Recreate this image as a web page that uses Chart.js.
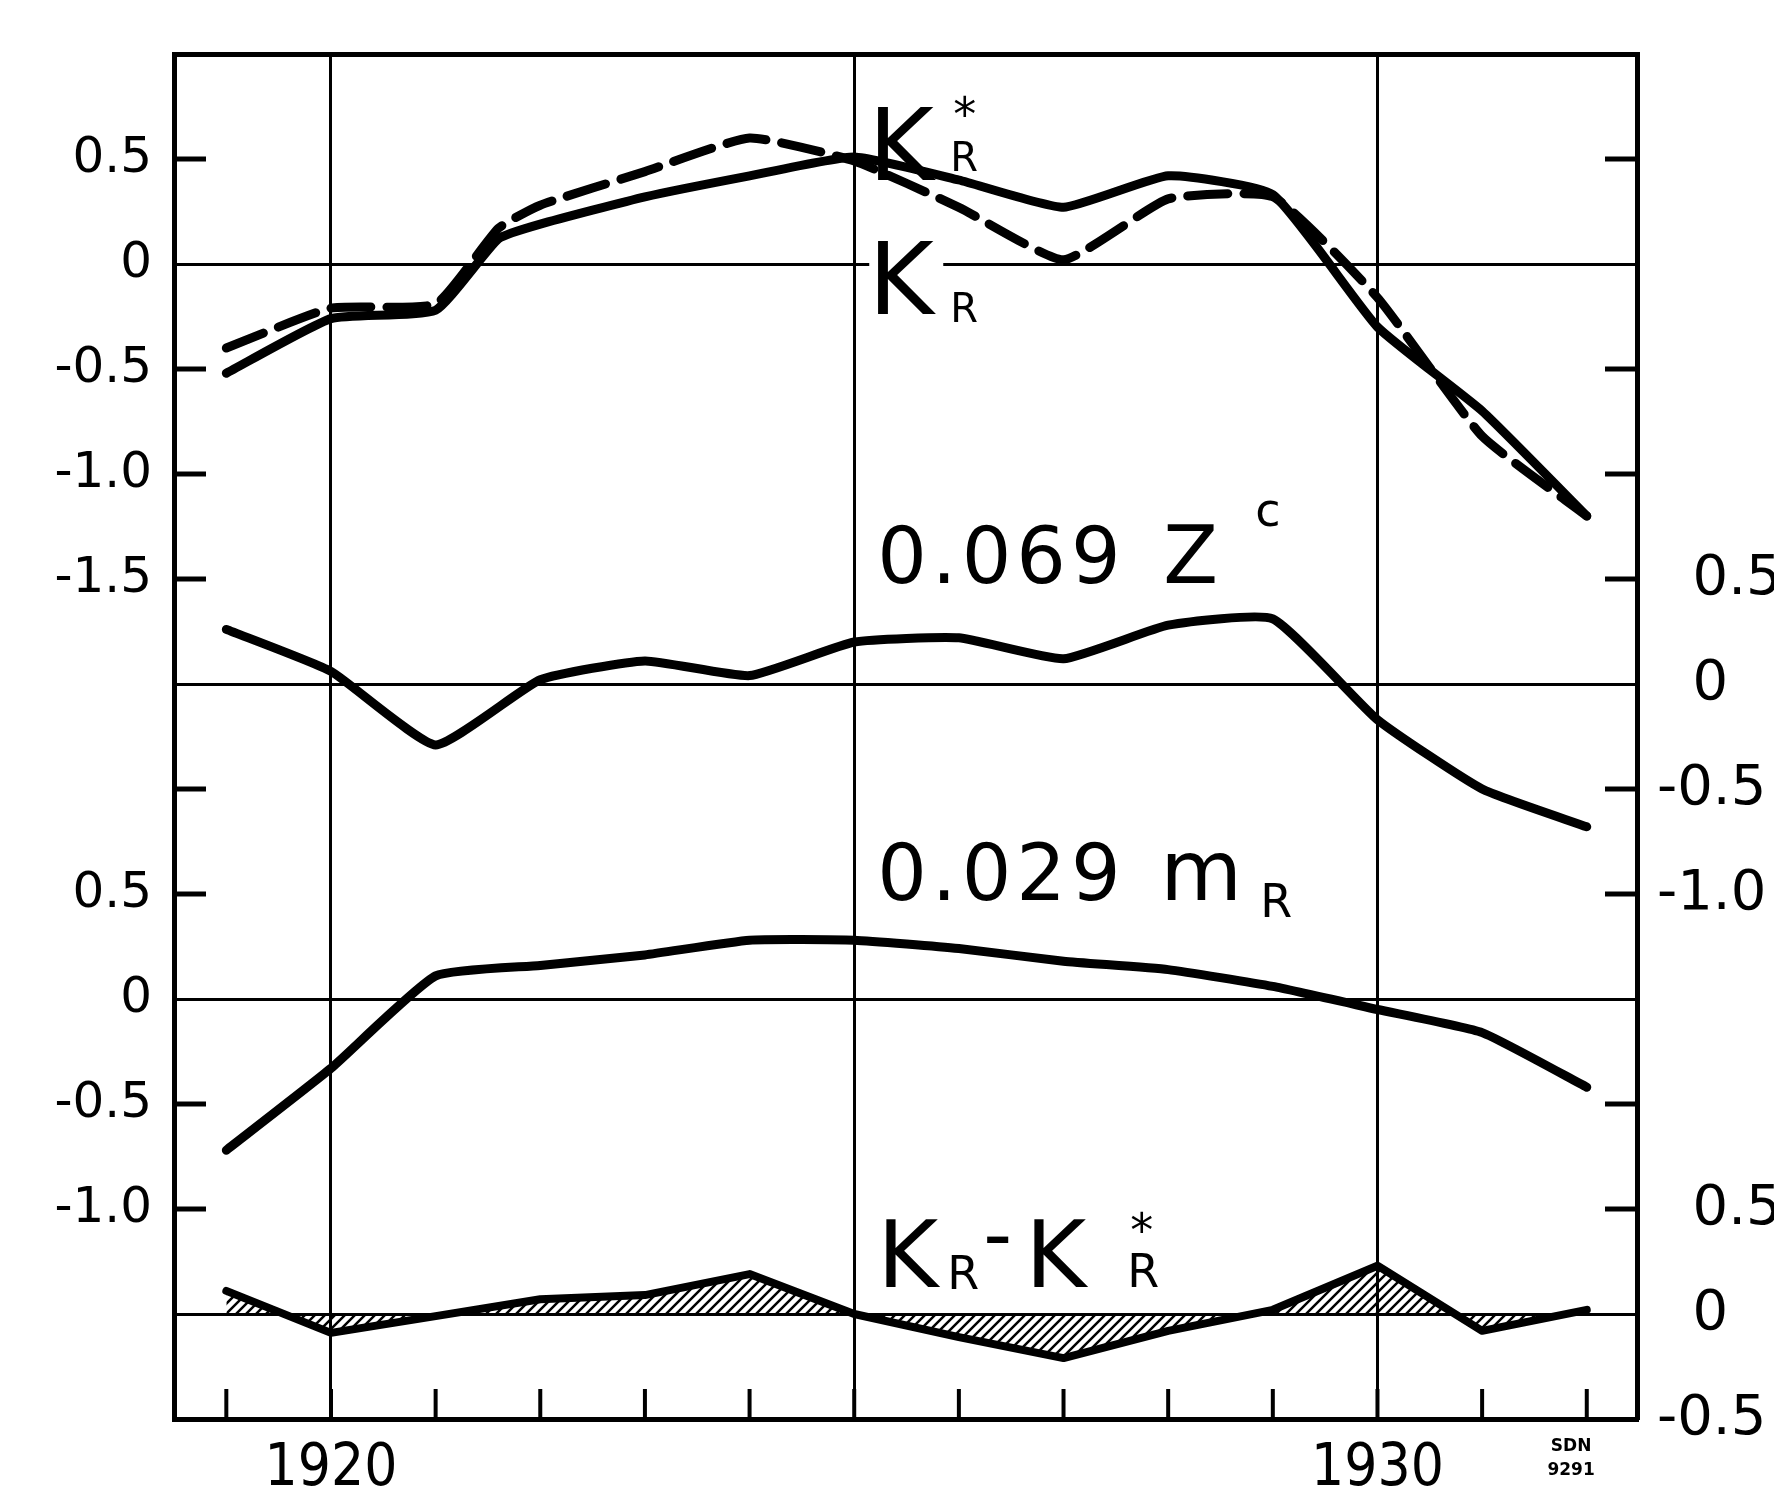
<!DOCTYPE html>
<html>
<head>
<meta charset="utf-8">
<title>K_R, Z, m_R 1919-1932</title>
<script src="https://cdn.jsdelivr.net/npm/chart.js@4.4.1/dist/chart.umd.min.js"></script>
<style>
    html, body { margin: 0; padding: 0; background: #fff; }
    #wrap { width: 1774px; height: 1497px; }
</style>
</head>
<body>
<div id="wrap"><canvas id="chart" width="1774" height="1497"></canvas></div>
<script>
// yearly values
const years = [1919, 1920, 1921, 1922, 1923, 1924, 1925, 1926, 1927, 1928, 1929, 1930, 1931, 1932];
// the K curves have an extra bend shortly after 1921
const kYears = [1919, 1920, 1921, 1921.6, 1922, 1923, 1924, 1925, 1926, 1927, 1928, 1929, 1930, 1931, 1932];
const kRStar = [-0.52, -0.26, -0.22, 0.12, 0.19, 0.32, 0.42, 0.51, 0.40, 0.27, 0.42, 0.33, -0.30, -0.70, -1.20];
const kR = [-0.40, -0.21, -0.19, 0.17, 0.28, 0.44, 0.60, 0.49, 0.27, 0.02, 0.31, 0.32, -0.16, -0.82, -1.20];
const zC = [0.26, 0.06, -0.29, 0.02, 0.11, 0.04, 0.20, 0.22, 0.12, 0.28, 0.31, -0.17, -0.50, -0.68];
const mR = [-0.72, -0.33, 0.11, 0.16, 0.21, 0.28, 0.28, 0.24, 0.18, 0.14, 0.06, -0.05, -0.16, -0.42];
const kDiff = [0.11, -0.09, -0.01, 0.07, 0.09, 0.19, 0.0, -0.11, -0.21, -0.08, 0.02, 0.23, -0.08, 0.02];

// axis labels (left / right values are in the units of the top panel)
const xLabels = { 1920: '1920', 1930: '1930' };
const decadeLines = [1920, 1925, 1930];
const leftTicks = [0.5, 0, -0.5, -1.0, -1.5, -2.0, -2.5, -3.0, -3.5, -4.0, -4.5, -5.0];
const leftLabels = ['0.5', '0', '-0.5', '-1.0', '-1.5', '', '', '0.5', '0', '-0.5', '-1.0', ''];
const rightTicks = [0.5, 0, -0.5, -1.0, -1.5, -2.0, -2.5, -3.0, -3.5, -4.0, -4.5, -5.0, -5.5];
const rightLabels = ['', '', '', '', '  0.5', '  0', '-0.5', '-1.0', '', '', '  0.5', '  0', '-0.5'];
const zeroLines = [0, -2.0, -3.5, -5.0];

const FONT = "'DejaVu Sans', sans-serif";
const INK = '#000';

function hatchPattern() {
    const c = document.createElement('canvas');
    c.width = 10;
    c.height = 10;
    const g = c.getContext('2d');
    g.strokeStyle = INK;
    g.lineWidth = 2.5;
    g.beginPath();
    g.moveTo(0, 10); g.lineTo(10, 0);
    g.moveTo(-1, 1); g.lineTo(1, -1);
    g.moveTo(9, 11); g.lineTo(11, 9);
    g.stroke();
    return g.createPattern(c, 'repeat');
}

// curve names written inside the plot; [text, dx, dy, size, spacing]
const noteYear = 1925.22;
const notes = [
    { axis: 'yL', value: 0.40, parts: [['K', -9, 0, 100], ['R', 73, -9, 40], ['*', 76, -50, 46]] },
    { axis: 'yL', value: -0.24, blank: true, parts: [['K', -9, 0, 100], ['R', 73, 8, 40]] },
    { axis: 'yZ', value: 0.48, parts: [['0.069', 0, 0, 78, 5], ['Z', 286, 0, 80], ['c', 378, -57, 46]] },
    { axis: 'yM', value: 0.47, parts: [['0.029', 0, 0, 78, 5], ['m', 283, 0, 84], ['R', 383, 17, 46]] },
    { axis: 'yD', value: 0.13, parts: [['K', 0, 0, 93], ['R', 70, 2, 46], ['-', 106, -25, 80], ['K', 148, 0, 93], ['R', 250, 0, 46], ['*', 253, -41, 46]] }
];

const figureMarks = {
    id: 'figureMarks',
    afterDraw(chart) {
        const { ctx, chartArea: a, scales } = chart;
        const xs = scales.x;
        ctx.save();
        ctx.strokeStyle = INK;
        ctx.fillStyle = INK;
        ctx.lineCap = 'butt';

        // inward tick marks on the frame
        ctx.lineWidth = 5;
        leftTicks.filter(v => !zeroLines.includes(v)).forEach(v => {
            const y = scales.yL.getPixelForValue(v);
            ctx.beginPath(); ctx.moveTo(a.left, y); ctx.lineTo(a.left + 32, y); ctx.stroke();
        });
        rightTicks.filter(v => !zeroLines.includes(v) && v > -5.5).forEach(v => {
            const y = scales.yR.getPixelForValue(v);
            ctx.beginPath(); ctx.moveTo(a.right - 32, y); ctx.lineTo(a.right, y); ctx.stroke();
        });
        ctx.lineWidth = 4;
        years.forEach(v => {
            const x = xs.getPixelForValue(v);
            ctx.beginPath(); ctx.moveTo(x, a.bottom); ctx.lineTo(x, a.bottom - 30); ctx.stroke();
        });

        // curve names
        const x0 = xs.getPixelForValue(noteYear);
        ctx.textAlign = 'left';
        ctx.textBaseline = 'alphabetic';
        notes.forEach(n => {
            const y0 = scales[n.axis].getPixelForValue(n.value);
            if (n.blank) {
                ctx.fillStyle = '#fff';
                ctx.fillRect(x0 - 8, y0 - 78, 74, 82);
                ctx.fillStyle = INK;
            }
            n.parts.forEach(([t, dx, dy, size, sp]) => {
                ctx.font = size + 'px ' + FONT;
                ctx.letterSpacing = (sp || 0) + 'px';
                ctx.fillText(t, x0 + dx, y0 + dy);
            });
        });
        ctx.letterSpacing = '0px';

        // small stamp under the last years
        const xs1 = xs.getPixelForValue(1931.85);
        ctx.textAlign = 'center';
        ctx.font = 'bold 17px ' + FONT;
        ctx.fillText('SDN', xs1, a.bottom + 32);
        ctx.fillText('9291', xs1, a.bottom + 56);
        ctx.restore();
    }
};

const hiddenAxis = (min, max) => ({ type: 'linear', display: false, min: min, max: max });

const border = { display: true, color: INK, width: 5 };

new Chart(document.getElementById('chart').getContext('2d'), {
    type: 'line',
    data: {
        datasets: [
            {
                label: 'K_R*',
                data: kYears.map((x, i) => ({ x: x, y: kRStar[i] })),
                yAxisID: 'yL',
                borderColor: INK,
                borderWidth: 9,
                tension: 0.15
            },
            {
                label: 'K_R',
                data: kYears.map((x, i) => ({ x: x, y: kR[i] })),
                yAxisID: 'yL',
                borderColor: INK,
                borderWidth: 9,
                borderDash: [40, 16],
                tension: 0.15
            },
            {
                label: '0.069 Z^c',
                data: years.map((x, i) => ({ x: x, y: zC[i] })),
                yAxisID: 'yZ',
                borderColor: INK,
                borderWidth: 9,
                tension: 0.15
            },
            {
                label: '0.029 m_R',
                data: years.map((x, i) => ({ x: x, y: mR[i] })),
                yAxisID: 'yM',
                borderColor: INK,
                borderWidth: 9,
                tension: 0.15
            },
            {
                label: 'K_R - K_R*',
                data: years.map((x, i) => ({ x: x, y: kDiff[i] })),
                yAxisID: 'yD',
                borderColor: INK,
                borderWidth: 8,
                backgroundColor: hatchPattern(),
                fill: 'origin',
                tension: 0
            }
        ]
    },
    options: {
        responsive: false,
        animation: false,
        devicePixelRatio: 1,
        events: [],
        layout: { padding: 0 },
        elements: {
            point: { radius: 0 },
            line: { borderJoinStyle: 'round', borderCapStyle: 'round' }
        },
        scales: {
            x: {
                type: 'linear',
                position: 'bottom',
                min: 1918.5,
                max: 1932.48,
                afterBuildTicks: scale => { scale.ticks = years.map(v => ({ value: v })); },
                afterFit: scale => { scale.height = 78; },
                ticks: {
                    autoSkip: false,
                    maxRotation: 0,
                    padding: 16,
                    color: INK,
                    font: { family: "'Liberation Sans Narrow', 'DejaVu Sans Condensed', sans-serif", size: 58 },
                    callback: value => xLabels[value] || ''
                },
                grid: {
                    drawTicks: false,
                    lineWidth: 3,
                    color: c => (c.tick && decadeLines.includes(c.tick.value)) ? INK : 'rgba(0,0,0,0)'
                },
                border: border
            },
            xTop: {
                type: 'linear',
                position: 'top',
                min: 1918.5,
                max: 1932.48,
                afterFit: scale => { scale.height = 54; },
                ticks: { display: false },
                grid: { display: false, drawTicks: false },
                border: border
            },
            yL: {
                type: 'linear',
                position: 'left',
                min: -5.5,
                max: 1.0,
                afterBuildTicks: scale => { scale.ticks = leftTicks.map(v => ({ value: v })); },
                afterFit: scale => { scale.width = 174; },
                ticks: {
                    autoSkip: false,
                    padding: 22,
                    color: INK,
                    font: { family: FONT, size: 50, lineHeight: 1 },
                    callback: value => leftLabels[leftTicks.indexOf(value)] || ''
                },
                grid: {
                    drawTicks: false,
                    lineWidth: 3,
                    color: c => (c.tick && zeroLines.includes(c.tick.value)) ? INK : 'rgba(0,0,0,0)'
                },
                border: border
            },
            yR: {
                type: 'linear',
                position: 'right',
                min: -5.5,
                max: 1.0,
                afterBuildTicks: scale => { scale.ticks = rightTicks.map(v => ({ value: v })); },
                afterFit: scale => { scale.width = 137; },
                ticks: {
                    autoSkip: false,
                    padding: 20,
                    color: INK,
                    font: { family: FONT, size: 56, lineHeight: 1 },
                    callback: value => rightLabels[rightTicks.indexOf(value)] || ''
                },
                grid: { display: false, drawTicks: false },
                border: border
            },
            yZ: hiddenAxis(-3.5, 3.0),
            yM: hiddenAxis(-2.0, 4.5),
            yD: hiddenAxis(-0.5, 6.0)
        },
        plugins: {
            legend: { display: false },
            tooltip: { enabled: false }
        }
    },
    plugins: [figureMarks]
});
</script>
</body>
</html>
